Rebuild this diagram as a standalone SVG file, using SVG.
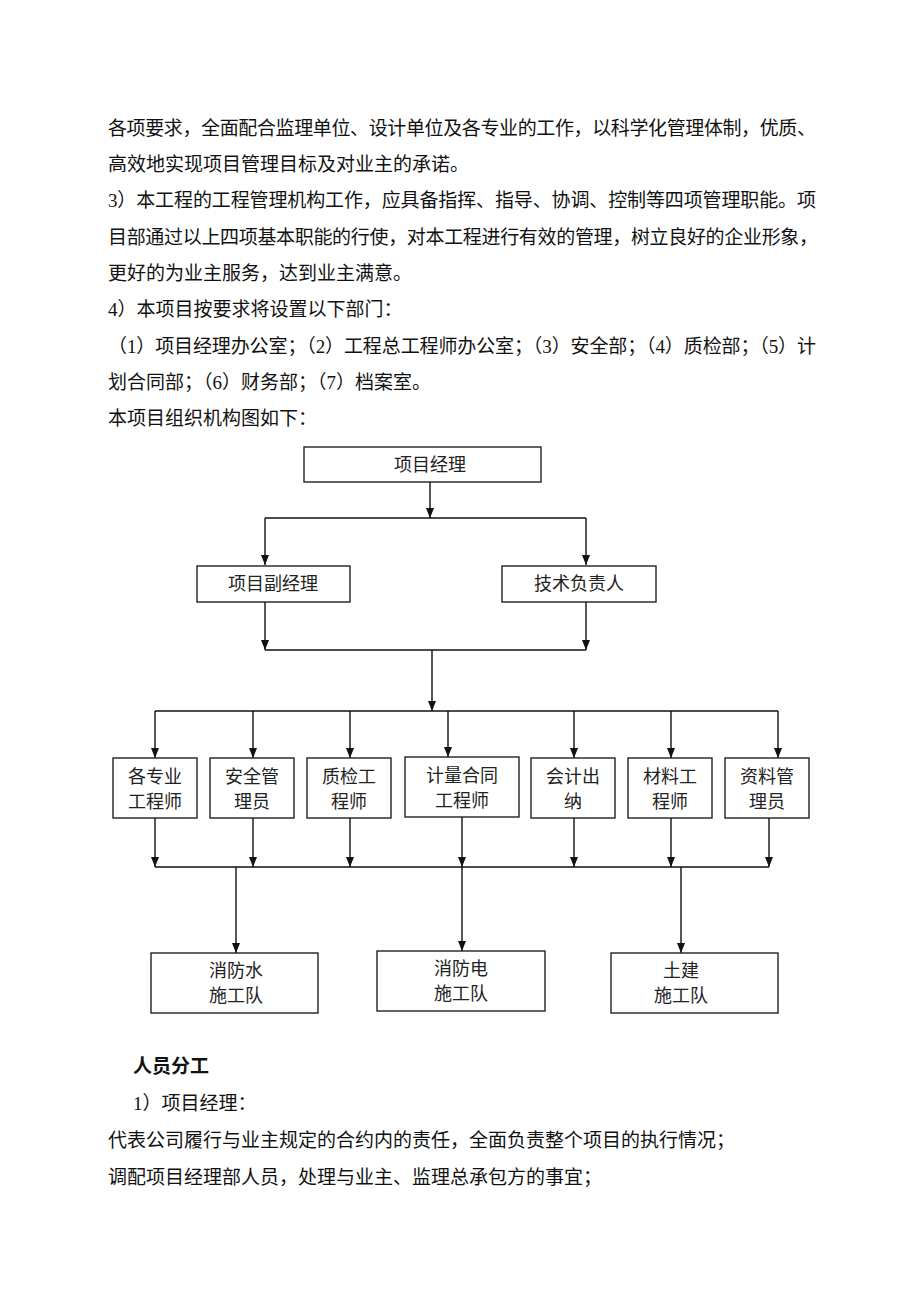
<svg xmlns="http://www.w3.org/2000/svg" width="920" height="1302" viewBox="0 0 920 1302">
<style>
  .body { font-family: "Liberation Serif", "Noto Sans CJK SC", serif; font-size: 19px; fill: #111; }
  .bold { font-weight: bold; }
  .box { fill: #fff; stroke: #222; stroke-width: 1.4; }
  .lbl { font-family: "Liberation Serif", "Noto Sans CJK SC", serif; font-size: 18px; fill: #222; text-anchor: middle; }
  .ln { fill: none; stroke: #111; stroke-width: 1.4; }
</style>
<defs>
  <marker id="arr" markerUnits="userSpaceOnUse" markerWidth="11" markerHeight="9" refX="10" refY="4" orient="auto">
    <path d="M0,0 L10,4 L0,8 z" fill="#111"/>
  </marker>
</defs>
<rect width="920" height="1302" fill="#fff"/>

<g id="text-top">
  <text class="body" x="108" y="135" textLength="708" lengthAdjust="spacing">各项要求，全面配合监理单位、设计单位及各专业的工作，以科学化管理体制，优质、</text>
  <text class="body" x="108" y="171">高效地实现项目管理目标及对业主的承诺。</text>
  <text class="body" x="108" y="207" textLength="708" lengthAdjust="spacing">3）本工程的工程管理机构工作，应具备指挥、指导、协调、控制等四项管理职能。项</text>
  <text class="body" x="108" y="244" textLength="710" lengthAdjust="spacing">目部通过以上四项基本职能的行使，对本工程进行有效的管理，树立良好的企业形象，</text>
  <text class="body" x="108" y="280">更好的为业主服务，达到业主满意。</text>
  <text class="body" x="108" y="316">4）本项目按要求将设置以下部门：</text>
  <text class="body" x="108" y="353" textLength="708" lengthAdjust="spacing">（1）项目经理办公室；（2）工程总工程师办公室；（3）安全部；（4）质检部；（5）计</text>
  <text class="body" x="108" y="389">划合同部；（6）财务部；（7）档案室。</text>
  <text class="body" x="108" y="425">本项目组织机构图如下：</text>
</g>

<g id="connectors">
  <line class="ln" x1="430" y1="482" x2="430" y2="518" marker-end="url(#arr)"/>
  <line class="ln" x1="265" y1="518" x2="586" y2="518"/>
  <line class="ln" x1="265" y1="518" x2="265" y2="565" marker-end="url(#arr)"/>
  <line class="ln" x1="586" y1="518" x2="586" y2="565" marker-end="url(#arr)"/>
  <line class="ln" x1="265" y1="602" x2="265" y2="650" marker-end="url(#arr)"/>
  <line class="ln" x1="586" y1="602" x2="586" y2="650" marker-end="url(#arr)"/>
  <line class="ln" x1="265" y1="650" x2="586" y2="650"/>
  <line class="ln" x1="432" y1="650" x2="432" y2="711" marker-end="url(#arr)"/>
  <line class="ln" x1="155" y1="711" x2="778" y2="711"/>
  <line class="ln" x1="155" y1="711" x2="155" y2="758" marker-end="url(#arr)"/>
  <line class="ln" x1="253" y1="711" x2="253" y2="758" marker-end="url(#arr)"/>
  <line class="ln" x1="350" y1="711" x2="350" y2="758" marker-end="url(#arr)"/>
  <line class="ln" x1="448" y1="711" x2="448" y2="757" marker-end="url(#arr)"/>
  <line class="ln" x1="574" y1="711" x2="574" y2="758" marker-end="url(#arr)"/>
  <line class="ln" x1="671" y1="711" x2="671" y2="758" marker-end="url(#arr)"/>
  <line class="ln" x1="778" y1="711" x2="778" y2="758" marker-end="url(#arr)"/>
  <line class="ln" x1="155" y1="818" x2="155" y2="867" marker-end="url(#arr)"/>
  <line class="ln" x1="253" y1="818" x2="253" y2="867" marker-end="url(#arr)"/>
  <line class="ln" x1="350" y1="818" x2="350" y2="867" marker-end="url(#arr)"/>
  <line class="ln" x1="462" y1="817" x2="462" y2="867" marker-end="url(#arr)"/>
  <line class="ln" x1="574" y1="818" x2="574" y2="867" marker-end="url(#arr)"/>
  <line class="ln" x1="671" y1="818" x2="671" y2="867" marker-end="url(#arr)"/>
  <line class="ln" x1="769" y1="818" x2="769" y2="867" marker-end="url(#arr)"/>
  <line class="ln" x1="155" y1="867" x2="769" y2="867"/>
  <line class="ln" x1="236" y1="867" x2="236" y2="953" marker-end="url(#arr)"/>
  <line class="ln" x1="462" y1="867" x2="462" y2="951" marker-end="url(#arr)"/>
  <line class="ln" x1="681" y1="867" x2="681" y2="953" marker-end="url(#arr)"/>
</g>

<g id="n-pm"><rect class="box" x="304" y="447" width="237" height="35"/><text class="lbl" x="430" y="471">项目经理</text></g>
<g id="n-dpm"><rect class="box" x="197" y="566" width="153" height="36"/><text class="lbl" x="273" y="590">项目副经理</text></g>
<g id="n-tech"><rect class="box" x="502" y="566" width="154" height="36"/><text class="lbl" x="579" y="590">技术负责人</text></g>

<g id="n-eng"><rect class="box" x="113" y="758" width="84" height="60"/><text class="lbl" x="155" y="783">各专业</text><text class="lbl" x="155" y="808">工程师</text></g>
<g id="n-safe"><rect class="box" x="210" y="758" width="84" height="60"/><text class="lbl" x="252" y="783">安全管</text><text class="lbl" x="252" y="808">理员</text></g>
<g id="n-qc"><rect class="box" x="307" y="758" width="84" height="60"/><text class="lbl" x="349" y="783">质检工</text><text class="lbl" x="349" y="808">程师</text></g>
<g id="n-contract"><rect class="box" x="405" y="757" width="114" height="60"/><text class="lbl" x="462" y="782">计量合同</text><text class="lbl" x="462" y="807">工程师</text></g>
<g id="n-acct"><rect class="box" x="531" y="758" width="84" height="60"/><text class="lbl" x="573" y="783">会计出</text><text class="lbl" x="573" y="808">纳</text></g>
<g id="n-mat"><rect class="box" x="628" y="758" width="84" height="60"/><text class="lbl" x="670" y="783">材料工</text><text class="lbl" x="670" y="808">程师</text></g>
<g id="n-doc"><rect class="box" x="725" y="758" width="84" height="60"/><text class="lbl" x="767" y="783">资料管</text><text class="lbl" x="767" y="808">理员</text></g>

<g id="n-water"><rect class="box" x="151" y="953" width="167" height="60"/><text class="lbl" x="236" y="977">消防水</text><text class="lbl" x="236" y="1002">施工队</text></g>
<g id="n-elec"><rect class="box" x="377" y="951" width="168" height="60"/><text class="lbl" x="461" y="975">消防电</text><text class="lbl" x="461" y="1000">施工队</text></g>
<g id="n-civil"><rect class="box" x="611" y="953" width="167" height="60"/><text class="lbl" x="681" y="977">土建</text><text class="lbl" x="681" y="1002">施工队</text></g>

<g id="text-bottom">
  <text class="body bold" x="133" y="1073">人员分工</text>
  <text class="body" x="133" y="1110">1）项目经理：</text>
  <text class="body" x="108" y="1147">代表公司履行与业主规定的合约内的责任，全面负责整个项目的执行情况；</text>
  <text class="body" x="108" y="1184">调配项目经理部人员，处理与业主、监理总承包方的事宜；</text>
</g>
</svg>
